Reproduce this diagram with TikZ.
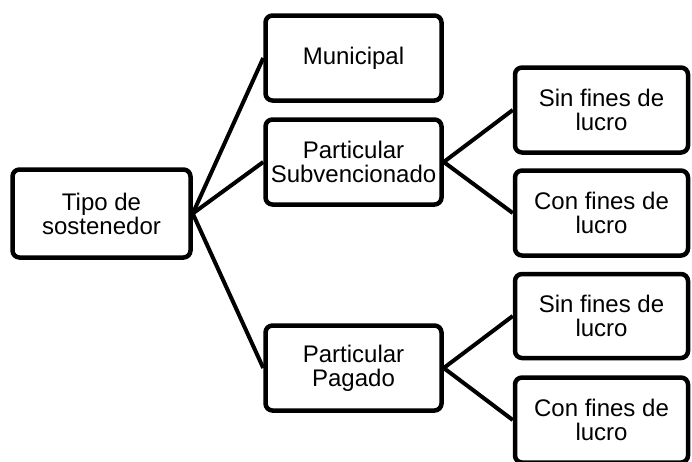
\documentclass[tikz,border=0pt]{standalone}
\usepackage{fontspec}
\setmainfont{Liberation Sans}
\begin{document}
\begin{tikzpicture}[x=1pt,y=-1pt,
  boxnode/.style={draw=black, line width=4.5pt, rounded corners=7pt, fill=white,
    align=center, inner sep=0pt, font=\fontsize{24}{24}\selectfont},
  link/.style={draw=black, line width=4pt}]
\useasboundingbox (0,0) rectangle (692,461);
\clip (0,0) rectangle (692,461);
\node[boxnode, minimum width=178pt, minimum height=88pt] (root) at (101.5,213.5) {Tipo de\\sostenedor};
\node[boxnode, minimum width=176pt, minimum height=85pt] (mun) at (353.5,58) {Municipal};
\node[boxnode, minimum width=176pt, minimum height=85pt] (sub) at (353.5,162) {Particular\\Subvencionado};
\node[boxnode, minimum width=176pt, minimum height=85pt] (pag) at (353.5,368) {Particular\\Pagado};
\node[boxnode, minimum width=173pt, minimum height=85pt] (s1) at (601.5,110) {Sin fines de\\lucro};
\node[boxnode, minimum width=173pt, minimum height=85pt] (c1) at (601.5,213) {Con fines de\\lucro};
\node[boxnode, minimum width=173pt, minimum height=84pt] (s2) at (601.5,316) {Sin fines de\\lucro};
\node[boxnode, minimum width=173pt, minimum height=85pt] (c2) at (601.5,420) {Con fines de\\lucro};
\draw[link] (root.east) -- (mun.west);
\draw[link] (root.east) -- (sub.west);
\draw[link] (root.east) -- (pag.west);
\draw[link] (sub.east) -- (s1.west);
\draw[link] (sub.east) -- (c1.west);
\draw[link] (pag.east) -- (s2.west);
\draw[link] (pag.east) -- (c2.west);
\end{tikzpicture}
\end{document}
